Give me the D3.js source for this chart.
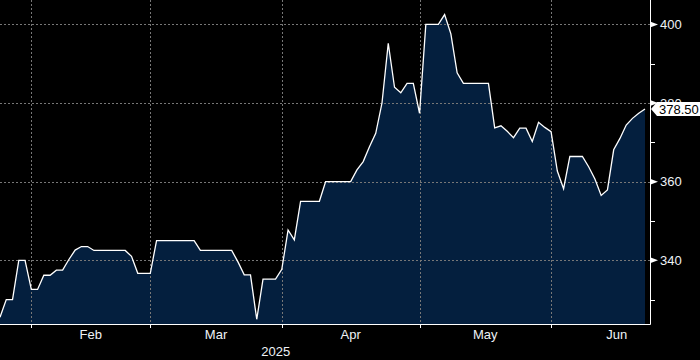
<!DOCTYPE html>
<html>
<head>
<meta charset="utf-8">
<script src="https://cdn.jsdelivr.net/npm/d3@7/dist/d3.min.js"></script>
<style>
  html, body { margin: 0; padding: 0; background: #000; }
  svg { display: block; }
  text { font-family: "Liberation Sans", Arial, sans-serif; }
</style>
</head>
<body>
<svg id="chart" width="700" height="360"></svg>
<script>
// Daily closing values (trading days, late Jan 2025 -> late Jun 2025)
const values = [
  325.5, 330, 330, 340, 340, 332.6, 332.6, 336.2, 336.2, 337.5,
  337.5, 340.2, 342.6, 343.5, 343.5, 342.5, 342.5, 342.5, 342.5, 342.5,
  342.5, 341, 336.7, 336.7, 336.7, 345, 345, 345, 345, 345,
  345, 345, 342.5, 342.5, 342.5, 342.5, 342.5, 342.5, 339.6, 336.3,
  336.3, 325, 335.2, 335.2, 335.2, 337.7, 347.7, 345.2, 355, 355,
  355, 355, 360, 360, 360, 360, 360, 363, 365.1, 368.9,
  372.3, 380, 395.2, 384, 382.6, 385, 385, 377.4, 400, 400,
  400, 402.5, 397.6, 387.7, 385, 385, 385, 385, 385, 373.7,
  374.2, 372.8, 371.2, 373.6, 373.6, 370.2, 375.1, 373.8, 372.7, 362.7,
  358.2, 366.4, 366.4, 366.4, 363.8, 360.7, 356.5, 357.9, 368.1, 371,
  374.4, 376.1, 377.4, 378.5
];
// Trading-day index of each month start (last entry = end of June)
const monthStarts = [5, 24, 45, 67, 88, 109];
const monthLabels = ["Feb", "Mar", "Apr", "May", "Jun"];
const yearLabel = "2025";
const majorTicks = [340, 360, 380, 400];
const minorTicks = [330, 350, 370, 390];
const lastLabel = "378.50";

const svg = d3.select("#chart");
const W = 700, H = 360;
const plotRight = 650, plotBottom = 324, dataRight = 645;

svg.append("rect").attr("width", W).attr("height", H).attr("fill", "#000");

const x = d3.scaleLinear().domain([0, values.length - 1]).range([0, dataRight]);
const y = d3.scaleLinear().domain([323.8, 406.2]).range([plotBottom, 0]);

// area
const area = d3.area()
  .x((d, i) => x(i))
  .y0(plotBottom)
  .y1(d => y(d));
svg.append("path").datum(values).attr("d", area).attr("fill", "#041f3e");

// grid
const grid = svg.append("g").attr("stroke", "#777").attr("stroke-dasharray", "2,2").attr("stroke-width", 1);
majorTicks.forEach(v => {
  grid.append("line").attr("x1", 0).attr("x2", plotRight)
    .attr("y1", Math.round(y(v)) + 0.5).attr("y2", Math.round(y(v)) + 0.5);
});
monthStarts.slice(0, 5).forEach(m => {
  const xx = Math.round(x(m)) + 0.5;
  grid.append("line").attr("x1", xx).attr("x2", xx).attr("y1", 0).attr("y2", plotBottom);
});

// line
const line = d3.line().x((d, i) => x(i)).y(d => y(d));
svg.append("path").datum(values).attr("d", line)
  .attr("fill", "none").attr("stroke", "#fff").attr("stroke-width", 1.3)
  .attr("stroke-linejoin", "miter");

// axes lines
svg.append("line").attr("x1", 0).attr("x2", plotRight + 0.5).attr("y1", plotBottom + 0.5).attr("y2", plotBottom + 0.5)
  .attr("stroke", "#fff").attr("stroke-width", 1);
svg.append("line").attr("x1", plotRight + 0.5).attr("x2", plotRight + 0.5).attr("y1", 0).attr("y2", plotBottom + 0.5)
  .attr("stroke", "#fff").attr("stroke-width", 1);

// bottom ticks & labels
monthStarts.slice(0, 5).forEach(m => {
  const xx = Math.round(x(m)) + 0.5;
  svg.append("line").attr("x1", xx).attr("x2", xx).attr("y1", plotBottom).attr("y2", plotBottom + 4)
    .attr("stroke", "#fff");
});
monthLabels.forEach((lab, i) => {
  const cx = x((monthStarts[i] + monthStarts[i + 1]) / 2);
  svg.append("text").attr("x", cx).attr("y", 339).attr("text-anchor", "middle")
    .attr("font-size", 13).attr("fill", "#eef2f6").text(lab);
});
svg.append("text").attr("x", x(monthStarts[2])).attr("dx", -6).attr("y", 355.5).attr("text-anchor", "middle")
  .attr("font-size", 13).attr("fill", "#eef2f6").text(yearLabel);

// right axis
minorTicks.forEach(v => {
  const yy = Math.round(y(v)) + 0.5;
  svg.append("line").attr("x1", plotRight).attr("x2", plotRight + 5).attr("y1", yy).attr("y2", yy).attr("stroke", "#fff");
});
majorTicks.forEach(v => {
  const yy = y(v);
  svg.append("path")
    .attr("d", `M${plotRight},${yy - 3}L${plotRight + 8},${yy}L${plotRight},${yy + 3}Z`)
    .attr("fill", "#fff");
  svg.append("text").attr("x", 660).attr("y", yy).attr("dy", "0.36em")
    .attr("font-size", 13).attr("fill", "#eef2f6").text(v);
});

// last value tag
const ly = y(values[values.length - 1]);
svg.append("path")
  .attr("d", `M${plotRight + 1},${ly}L${plotRight + 7},${ly - 7}L${W},${ly - 7}L${W},${ly + 7}L${plotRight + 7},${ly + 7}Z`)
  .attr("fill", "#fff");
svg.append("text").attr("x", 659).attr("y", ly).attr("dy", "0.36em")
  .attr("font-size", 13).attr("fill", "#000").text(lastLabel);
</script>
</body>
</html>
